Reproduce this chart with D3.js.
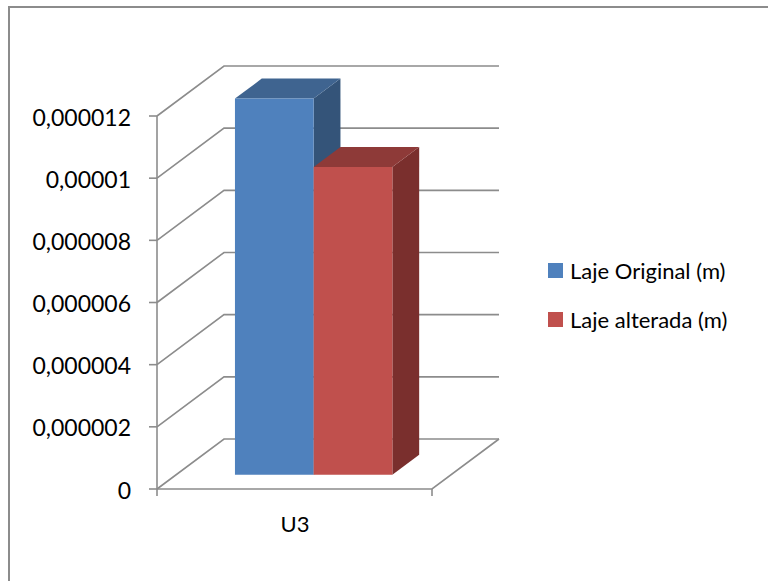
<!DOCTYPE html>
<html>
<head>
<meta charset="utf-8">
<script src="https://cdn.jsdelivr.net/npm/d3@7"></script>
<style>
html,body{margin:0;padding:0;background:#fff}
svg{display:block}
text{font-family:Lato,"Open Sans",sans-serif;fill:#000}
</style>
</head>
<body>
<svg id="chart" width="768" height="581"></svg>
<script>
const categories = ["U3"];
const seriesNames = ["Laje Original (m)", "Laje alterada (m)"];
const seriesValues = [0.0000121, 0.0000099];
const yTicks = [0, 0.000002, 0.000004, 0.000006, 0.000008, 0.00001, 0.000012];
const yTickLabels = ["0", "0,000002", "0,000004", "0,000006", "0,000008", "0,00001", "0,000012"];
const frontColors = ["#4f81bd", "#c0504d"];
const topColors = ["#3f6490", "#8e3a38"];
const sideColors = ["#345479", "#7a2f2d"];

const svg = d3.select("#chart");
const grey = "#8c8c8c";

// frame: only the top and left edges fall inside the page
svg.append("path").attr("d", "M9,581V7H768").attr("fill", "none")
  .attr("stroke", grey).attr("stroke-width", 2);

const y = d3.scaleLinear().domain([0, 0.000012]).range([489, 116]);
const x = d3.scaleBand().domain(categories).range([157, 432]);
const inner = d3.scaleBand().domain(d3.range(seriesNames.length))
  .range([0, x.bandwidth()]).paddingOuter(0.747).paddingInner(0);
// depth runs from the front edge of the floor (0) to the back wall (1)
const depthX = d3.scaleLinear().domain([0, 1]).range([0, 67]);
const depthY = d3.scaleLinear().domain([0, 1]).range([0, -50]);
const project = (px, v, d) => [px + depthX(d), y(v) + depthY(d)];
const pathOf = pts => "M" + pts.map(p => p.map(n => n.toFixed(2)).join(",")).join("L") + "Z";
const openPath = pts => "M" + pts.map(p => p.map(n => n.toFixed(2)).join(",")).join("L");

const left = x.range()[0], right = x.range()[1];
const grid = svg.append("g").attr("fill", "none").attr("stroke", grey).attr("stroke-width", 1.6);

// wall lines: up the side wall, then along the back wall
yTicks.forEach(t => {
  grid.append("path").attr("d", openPath([project(left, t, 0), project(left, t, 1), project(right, t, 1)]));
});
// floor outline and vertical axis
grid.append("path").attr("d", openPath([project(right, 0, 1), project(right, 0, 0), project(left, 0, 0)]));
grid.append("path").attr("d", openPath([[left, y(yTicks[yTicks.length - 1])], [left, y(0) + 7]]));
grid.append("path").attr("d", openPath([[right, y(0)], [right, y(0) + 7]]));
yTicks.forEach(t => {
  grid.append("path").attr("d", openPath([[left - 8, y(t)], [left, y(t)]]));
});

svg.append("g").selectAll("text").data(yTicks).join("text")
  .attr("x", 131).attr("y", t => y(t) + 9.5)
  .attr("text-anchor", "end").attr("font-size", 23)
  .text((t, i) => yTickLabels[i]);

svg.append("text").attr("x", x(categories[0]) + x.bandwidth() / 2 + 0.5).attr("y", 532)
  .attr("text-anchor", "middle").attr("font-size", 22).text(categories[0]);

// bars sit between these two depths
const zFront = 0.286, zBack = 0.686;
const bars = svg.append("g");
seriesValues.forEach((v, i) => {
  const x0 = x(categories[0]) + inner(i), x1 = x0 + inner.bandwidth();
  const g = bars.append("g");
  g.append("path").attr("fill", sideColors[i]).attr("d", pathOf([
    project(x1, 0, zFront), project(x1, 0, zBack), project(x1, v, zBack), project(x1, v, zFront)]));
  g.append("path").attr("fill", topColors[i]).attr("d", pathOf([
    project(x0, v, zFront), project(x0, v, zBack), project(x1, v, zBack), project(x1, v, zFront)]));
  g.append("path").attr("fill", frontColors[i]).attr("d", pathOf([
    project(x0, 0, zFront), project(x1, 0, zFront), project(x1, v, zFront), project(x0, v, zFront)]));
});

const legendY = d3.scalePoint().domain(seriesNames).range([270.5, 319.5]);
const legend = svg.append("g").selectAll("g").data(seriesNames).join("g");
legend.append("rect").attr("x", 548).attr("y", n => legendY(n) - 7.5).attr("width", 15).attr("height", 15)
  .attr("fill", (n, i) => frontColors[i]);
legend.append("text").attr("x", 570).attr("y", n => legendY(n) + 8)
  .attr("font-size", 22).text(n => n);
</script>
</body>
</html>
